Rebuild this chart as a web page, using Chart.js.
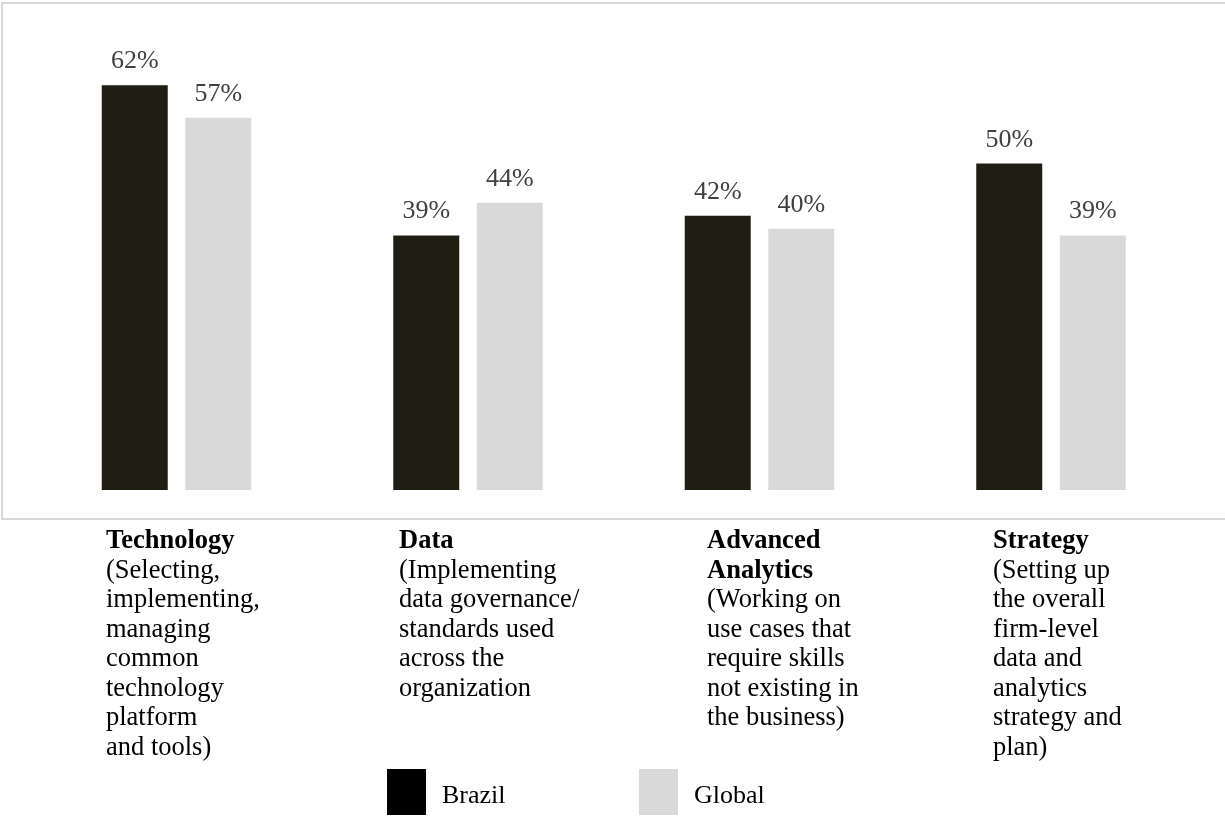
<!DOCTYPE html>
<html>
<head>
<meta charset="utf-8">
<script src="https://cdn.jsdelivr.net/npm/chart.js@4/dist/chart.umd.min.js"></script>
<style>
  html, body { margin: 0; padding: 0; background: #ffffff; }
  #c { display: block; }
</style>
</head>
<body>
<canvas id="c" width="1225" height="817"></canvas>
<script>
// ---- data ----
const categories = ["Technology", "Data", "Advanced Analytics", "Strategy"];
const categoryTitleLines = [
  ["Technology"],
  ["Data"],
  ["Advanced", "Analytics"],
  ["Strategy"]
];
const categoryDescLines = [
  ["(Selecting,", "implementing,", "managing", "common", "technology", "platform", "and tools)"],
  ["(Implementing", "data governance/", "standards used", "across the", "organization"],
  ["(Working on", "use cases that", "require skills", "not existing in", "the business)"],
  ["(Setting up", "the overall", "firm-level", "data and", "analytics", "strategy and", "plan)"]
];
const seriesNames = ["Brazil", "Global"];
const brazilValues = [62, 39, 42, 50];
const globalValues = [57, 44, 40, 39];

// ---- styling ----
const SERIF = "'Liberation Serif', 'Times New Roman', serif";
const BRAZIL_COLOR = "#201e12";
const GLOBAL_COLOR = "#d9d9d9";
const LEGEND_COLORS = ["#000000", "#d9d9d9"];

const framePlugin = {
  id: "frame",
  beforeDraw(chart) {
    const ctx = chart.ctx;
    ctx.save();
    ctx.fillStyle = "#ffffff";
    ctx.fillRect(0, 0, chart.width, chart.height);
    ctx.strokeStyle = "#d9d9d9";
    ctx.lineWidth = 2;
    ctx.strokeRect(2, 3, chart.width + 10, 516);
    ctx.restore();
  }
};

const valueLabelPlugin = {
  id: "valueLabels",
  afterDatasetsDraw(chart) {
    const ctx = chart.ctx;
    ctx.save();
    ctx.font = "26px " + SERIF;
    ctx.fillStyle = "#404040";
    ctx.textAlign = "center";
    ctx.textBaseline = "alphabetic";
    chart.data.datasets.forEach((ds, di) => {
      const meta = chart.getDatasetMeta(di);
      meta.data.forEach((bar, i) => {
        ctx.fillText(ds.data[i] + "%", bar.x, bar.y - 17);
      });
    });
    ctx.restore();
  }
};

const categoryLabelPlugin = {
  id: "categoryLabels",
  afterDraw(chart, args, opts) {
    const ctx = chart.ctx;
    const xs = chart.scales.x;
    ctx.save();
    ctx.fillStyle = "#000000";
    ctx.textAlign = "left";
    ctx.textBaseline = "alphabetic";
    categories.forEach((c, i) => {
      const x = xs.getPixelForValue(i) + opts.offsets[i];
      let y = opts.firstBaseline;
      ctx.font = "bold 26.5px " + SERIF;
      categoryTitleLines[i].forEach(t => { ctx.fillText(t, x, y); y += opts.lineHeight; });
      ctx.font = "26.5px " + SERIF;
      categoryDescLines[i].forEach(t => { ctx.fillText(t, x, y); y += opts.lineHeight; });
    });
    ctx.restore();
  }
};

const legendPlugin = {
  id: "customLegend",
  afterDraw(chart, args, opts) {
    const ctx = chart.ctx;
    ctx.save();
    ctx.font = "26px " + SERIF;
    ctx.textBaseline = "alphabetic";
    ctx.textAlign = "left";
    seriesNames.forEach((name, i) => {
      const bx = opts.boxX[i];
      ctx.fillStyle = LEGEND_COLORS[i];
      ctx.fillRect(bx, opts.boxY, opts.boxW, opts.boxH);
      ctx.fillStyle = "#000000";
      ctx.fillText(name, bx + opts.boxW + 16, opts.textBaseline);
    });
    ctx.restore();
  }
};

new Chart(document.getElementById("c"), {
  type: "bar",
  data: {
    labels: categories,
    datasets: [
      { label: seriesNames[0], data: brazilValues, backgroundColor: BRAZIL_COLOR, borderWidth: 0 },
      { label: seriesNames[1], data: globalValues, backgroundColor: GLOBAL_COLOR, borderWidth: 0 }
    ]
  },
  options: {
    responsive: false,
    animation: false,
    devicePixelRatio: 1,
    categoryPercentage: 0.573,
    barPercentage: 0.79,
    layout: { padding: { left: 30.75, right: 28.25, top: 33, bottom: 327 } },
    scales: {
      x: { display: false },
      y: { display: false, min: 0, max: 70 }
    },
    plugins: {
      legend: { display: false },
      tooltip: { enabled: false },
      categoryLabels: { offsets: [-70.5, -69, -52.5, -58], firstBaseline: 548, lineHeight: 29.5 },
      customLegend: { boxX: [387, 639], boxY: 769, boxW: 39, boxH: 46, textBaseline: 803 }
    }
  },
  plugins: [framePlugin, valueLabelPlugin, categoryLabelPlugin, legendPlugin]
});
</script>
</body>
</html>
